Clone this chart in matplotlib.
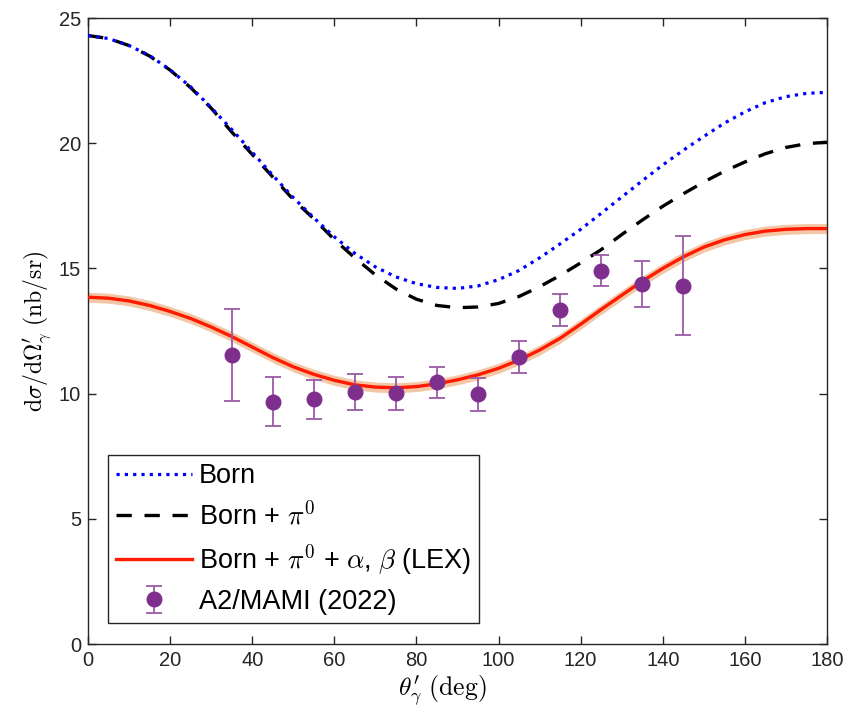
import matplotlib
matplotlib.use("Agg")
import matplotlib.pyplot as plt
import numpy as np

plt.rcParams['font.family'] = ['Liberation Sans', 'DejaVu Sans']
plt.rcParams['mathtext.fontset'] = 'cm'

# Theory curves, sampled every 5 degrees
theta = [0, 5, 10, 15, 20, 25, 30, 35, 40, 45, 50, 55, 60, 65, 70, 75, 80, 85, 90,
         95, 100, 105, 110, 115, 120, 125, 130, 135, 140, 145, 150, 155, 160, 165,
         170, 175, 180]
born = [24.30, 24.18, 23.90, 23.50, 22.93, 22.25, 21.42, 20.55, 19.64, 18.72, 17.83,
        17.02, 16.26, 15.60, 15.06, 14.66, 14.39, 14.24, 14.20, 14.30, 14.55, 14.92,
        15.42, 15.98, 16.56, 17.20, 17.85, 18.50, 19.13, 19.72, 20.27, 20.80, 21.25,
        21.62, 21.86, 21.99, 22.03]
born_pi0 = [24.30, 24.18, 23.90, 23.48, 22.92, 22.22, 21.40, 20.45, 19.55, 18.65,
            17.75, 16.98, 16.15, 15.42, 14.74, 14.18, 13.77, 13.52, 13.43, 13.46,
            13.60, 13.88, 14.27, 14.72, 15.22, 15.75, 16.35, 16.93, 17.48, 17.98,
            18.45, 18.88, 19.25, 19.58, 19.83, 19.98, 20.04]
lex = [13.85, 13.81, 13.70, 13.52, 13.28, 13.00, 12.66, 12.28, 11.86, 11.44, 11.07,
       10.77, 10.53, 10.35, 10.26, 10.23, 10.28, 10.39, 10.55, 10.75, 11.01, 11.34,
       11.74, 12.21, 12.77, 13.36, 13.93, 14.49, 15.00, 15.46, 15.85, 16.14, 16.35,
       16.49, 16.56, 16.59, 16.59]
lex_band = 0.2  # half-width of the LEX uncertainty band

# A2/MAMI (2022) data
exp_theta = [35, 45, 55, 65, 75, 85, 95, 105, 115, 125, 135, 145]
exp_xs = [11.54, 9.68, 9.77, 10.05, 10.01, 10.45, 9.97, 11.47, 13.34, 14.91, 14.38, 14.31]
exp_err = [1.85, 0.98, 0.79, 0.72, 0.67, 0.61, 0.66, 0.64, 0.65, 0.62, 0.91, 1.97]

W, H = 848, 718
fig = plt.figure(figsize=(W / 100, H / 100), dpi=100)
ax = fig.add_axes([88 / W, (H - 644) / H, (827 - 88) / W, (644 - 18) / H])

th = np.array(theta)
lx = np.array(lex)
ax.fill_between(th, lx - lex_band, lx + lex_band, color='#f3c7a6', lw=0, zorder=1)

ax.plot(theta, born, color='#0000ff', lw=2.3, linestyle=(0, (1, 1.6)), label='Born', zorder=3)
ax.plot(theta, born_pi0, color='black', lw=2.4, linestyle=(0, (4.6, 3.8)),
        label=r'Born + $\pi^{\mathsf{0}}$', zorder=2)
ax.plot(theta, lex, color='#ff1a00', lw=2.4,
        label=r'Born + $\pi^{\mathsf{0}}$ + $\alpha$, $\beta$ (LEX)', zorder=4)

purple = '#7e2f8e'
ax.errorbar(exp_theta, exp_xs, yerr=exp_err, fmt='o', color=purple, ms=10.5,
            ecolor='#9a5aa6', elinewidth=1.3, capsize=6, capthick=1.3,
            label='A2/MAMI (2022)', zorder=5)

ax.set_xlim(0, 180)
ax.set_ylim(0, 25)
ax.set_xticks(np.arange(0, 181, 20))
ax.set_yticks(np.arange(0, 26, 5))
ax.tick_params(direction='in', length=6, width=1, top=True, right=True,
               labelsize=14.5, colors='#262626', pad=5)
for s in ax.spines.values():
    s.set_color('#262626')
    s.set_linewidth(1.0)

ax.set_xlabel(r"$\theta^{\prime}_{\gamma}\ (\mathrm{deg})$", fontsize=18.5, labelpad=1)
ax.xaxis.set_label_coords(0.48, -0.048)
ax.set_ylabel(r"$\mathrm{d}\sigma/\mathrm{d}\Omega^{\prime}_{\gamma}\ (\mathrm{nb/sr})$",
              fontsize=17, labelpad=4)

leg = ax.legend(loc='lower left', bbox_to_anchor=(0.027, 0.0335), fontsize=19.5,
                handlelength=2.8, handletextpad=0.25, labelspacing=0.42,
                borderpad=0.3, borderaxespad=0, fancybox=False, framealpha=1,
                edgecolor='#262626')
leg.get_frame().set_linewidth(1.0)

fig.savefig('out.png', dpi=100)
